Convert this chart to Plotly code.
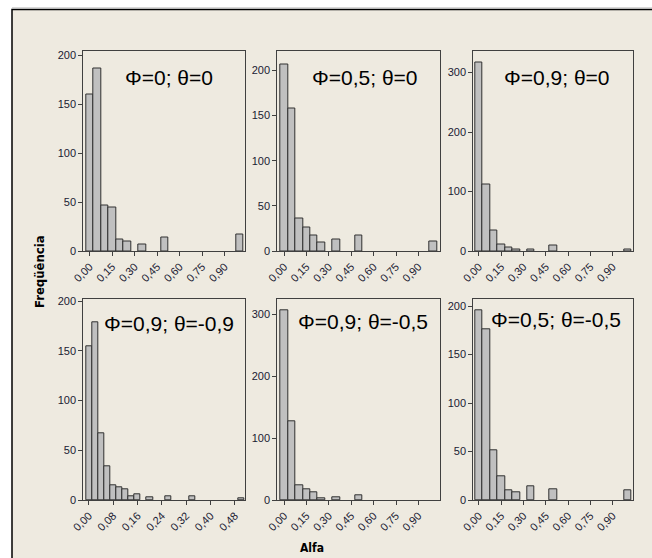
import plotly.graph_objects as go

# ---------------- data ----------------
titles = ["Φ=0; θ=0", "Φ=0,5; θ=0", "Φ=0,9; θ=0",
          "Φ=0,9; θ=-0,9", "Φ=0,9; θ=-0,5", "Φ=0,5; θ=-0,5"]

bins_a = [0.00, 0.05, 0.10, 0.15, 0.20, 0.25, 0.35, 0.50, 1.00]
p1_counts = [160, 187, 47, 44, 12, 10, 7, 14, 17]
p2_counts = [207, 158, 36, 26, 17, 9, 13, 17, 11]
p3_counts = [316, 112, 34, 11, 6, 2, 2, 9, 2]
bins_b = [0.00, 0.02, 0.04, 0.06, 0.08, 0.10, 0.12, 0.14, 0.16, 0.20, 0.26, 0.34, 0.50]
p4_counts = [155, 179, 67, 34, 15, 13, 11, 4, 6, 3, 4, 4, 2]
bins_c = [0.00, 0.05, 0.10, 0.15, 0.20, 0.25, 0.35, 0.50]
p5_counts = [306, 127, 24, 17, 13, 3, 4, 8]
p6_counts = [196, 176, 51, 24, 10, 8, 14, 11, 10]

xtick_a = [0.00, 0.15, 0.30, 0.45, 0.60, 0.75, 0.90]
xtick_a_text = ["0,00", "0,15", "0,30", "0,45", "0,60", "0,75", "0,90"]
xtick_b = [0.00, 0.08, 0.16, 0.24, 0.32, 0.40, 0.48]
xtick_b_text = ["0,00", "0,08", "0,16", "0,24", "0,32", "0,40", "0,48"]
ytick_200 = [0, 50, 100, 150, 200]
ytick_300 = [0, 100, 200, 300]

panels = [
    (bins_a, p1_counts, 0.05, xtick_a, xtick_a_text, ytick_200, [-0.043, 1.035], [0, 205]),
    (bins_a, p2_counts, 0.05, xtick_a, xtick_a_text, ytick_200, [-0.046, 1.045], [0, 222]),
    (bins_a, p3_counts, 0.05, xtick_a, xtick_a_text, ytick_300, [-0.038, 1.038], [0, 337]),
    (bins_b, p4_counts, 0.02, xtick_b, xtick_b_text, ytick_200, [-0.0186, 0.513], [0, 202]),
    (bins_c, p5_counts, 0.05, xtick_a, xtick_a_text, ytick_300, [-0.046, 1.045], [0, 324]),
    (bins_a, p6_counts, 0.05, xtick_a, xtick_a_text, ytick_200, [-0.038, 1.038], [0, 207]),
]

# ---------------- layout geometry (pixels) ----------------
W, H = 652, 558
cols_px = [(83.3, 245.0), (277.3, 440.0), (473.3, 633.3)]
rows_px = [(50.5, 251.0), (299.3, 500.0)]
title_pos = [(169, 78), (364.7, 77.5), (557, 77), (169, 323), (363.5, 321.7), (556, 319)]

def px_x(x):
    return x / W

def px_y(y):
    return 1 - y / H

fig = go.Figure()
tick_font = dict(family="Liberation Sans Narrow, Arial Narrow, sans-serif", size=11, color="#1a1a33")
layout = dict(width=W, height=H, margin=dict(l=0, r=0, t=0, b=0, pad=0, autoexpand=False),
              paper_bgcolor="white", plot_bgcolor="white", showlegend=False,
              bargap=0, template="none")

annotations = []
for i, (bx, cnt, bw, xt, xtt, yt, xr, yr) in enumerate(panels):
    r, c = divmod(i, 3)
    n = i + 1
    xa = "x" if n == 1 else f"x{n}"
    ya = "y" if n == 1 else f"y{n}"
    fig.add_trace(go.Bar(x=bx, y=cnt, width=[bw] * len(bx), xaxis=xa, yaxis=ya,
                         marker=dict(color="#c0c0c0", line=dict(color="#303030", width=1)),
                         hoverinfo="x+y"))
    xkey = "xaxis" if n == 1 else f"xaxis{n}"
    ykey = "yaxis" if n == 1 else f"yaxis{n}"
    x0, x1 = cols_px[c]
    y0, y1 = rows_px[r]
    layout[xkey] = dict(domain=[px_x(x0), px_x(x1)], anchor=ya, range=xr, automargin=False,
                        tickmode="array", tickvals=xt, ticktext=xtt, tickangle=-45,
                        ticks="outside", ticklen=4, tickcolor="#404040",
                        showline=True, linecolor="#404040", linewidth=1, mirror=True,
                        showgrid=False, zeroline=False, tickfont=tick_font)
    layout[ykey] = dict(domain=[px_y(y1), px_y(y0)], anchor=xa, range=yr, automargin=False,
                        tickmode="array", tickvals=yt,
                        ticks="outside", ticklen=4, tickcolor="#404040",
                        showline=True, linecolor="#404040", linewidth=1, mirror=True,
                        showgrid=False, zeroline=False, tickfont=tick_font)
    tx, ty = title_pos[i]
    annotations.append(dict(x=px_x(tx), y=px_y(ty), xref="paper", yref="paper",
                            text=titles[i], showarrow=False,
                            font=dict(family="Liberation Sans, Arial, sans-serif", size=21, color="black"),
                            xanchor="center", yanchor="middle"))

annotations.append(dict(x=px_x(40), y=px_y(272), xref="paper", yref="paper",
                        text="<b>Freqüência</b>", textangle=-90, showarrow=False,
                        font=dict(family="DejaVu Sans Condensed, DejaVu Sans, sans-serif", size=13, color="black"),
                        xanchor="center", yanchor="middle"))
annotations.append(dict(x=px_x(312), y=px_y(548), xref="paper", yref="paper",
                        text="<b>Alfa</b>", showarrow=False,
                        font=dict(family="DejaVu Sans Condensed, DejaVu Sans, sans-serif", size=12, color="black"),
                        xanchor="center", yanchor="middle"))
layout["annotations"] = annotations

layout["shapes"] = [
    dict(type="rect", xref="paper", yref="paper", layer="below",
         x0=px_x(12), x1=1.02, y0=-0.02, y1=px_y(9.5),
         fillcolor="#eeeae0", line=dict(color="black", width=1.5)),
    dict(type="line", xref="paper", yref="paper", layer="below",
         x0=px_x(12), x1=1.02, y0=px_y(8), y1=px_y(8),
         line=dict(color="#b0b0b0", width=1)),
]

fig.update_layout(**layout)
fig.write_html("out.html", config={"displayModeBar": False},
               post_script="document.body.style.margin='0px';document.body.style.overflow='hidden';")
